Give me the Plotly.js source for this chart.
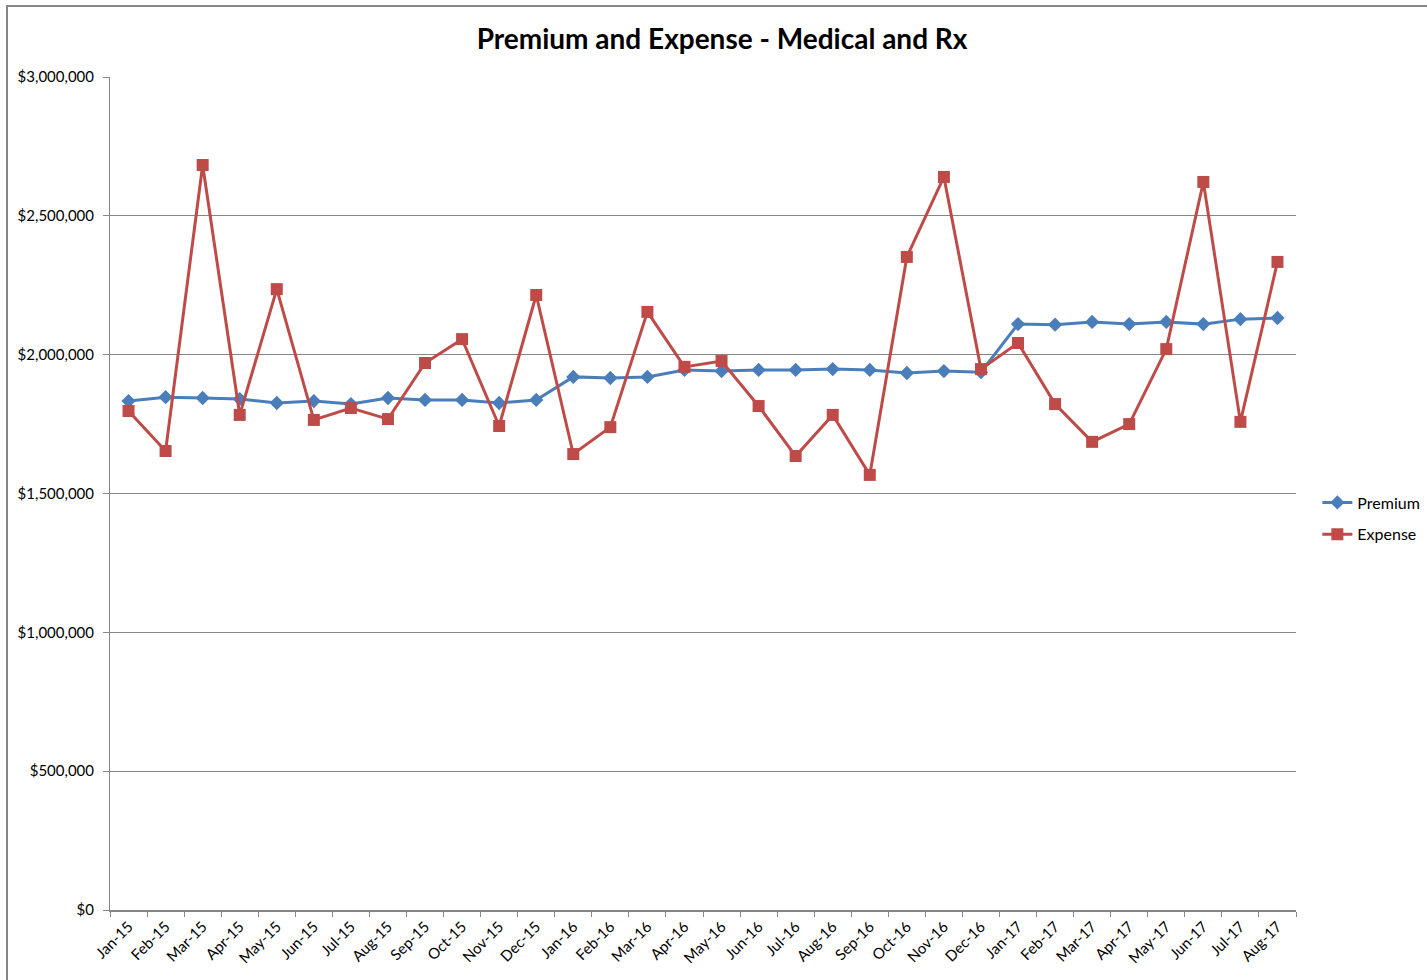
<!DOCTYPE html>
<html>
<head>
<meta charset="utf-8">
<script src="https://cdn.plot.ly/plotly-3.0.1.min.js"></script>
<style>
  html, body { margin: 0; padding: 0; background: #fff; }
  #plotArea { width: 1427px; height: 980px; }
</style>
</head>
<body>
<div id="plotArea"></div>
<script>
// months on the x axis
var months = [
  "Jan-15", "Feb-15", "Mar-15", "Apr-15", "May-15", "Jun-15", "Jul-15", "Aug-15",
  "Sep-15", "Oct-15", "Nov-15", "Dec-15", "Jan-16", "Feb-16", "Mar-16", "Apr-16",
  "May-16", "Jun-16", "Jul-16", "Aug-16", "Sep-16", "Oct-16", "Nov-16", "Dec-16",
  "Jan-17", "Feb-17", "Mar-17", "Apr-17", "May-17", "Jun-17", "Jul-17", "Aug-17"
];

// Premium
var premium = [
  1833000, 1847000, 1844000, 1840000, 1826000, 1833000, 1822000, 1844000,
  1837000, 1837000, 1826000, 1837000, 1920000, 1916000, 1920000, 1945000,
  1941000, 1945000, 1945000, 1948000, 1945000, 1934000, 1941000, 1937000,
  2110000, 2108000, 2118000, 2110000, 2118000, 2110000, 2128000, 2132000
];

// Expense
var expense = [
  1797000, 1653000, 2683000, 1783000, 2236000, 1765000, 1808000, 1768000,
  1970000, 2056000, 1743000, 2215000, 1642000, 1739000, 2154000, 1956000,
  1977000, 1815000, 1635000, 1783000, 1567000, 2352000, 2640000, 1948000,
  2042000, 1822000, 1686000, 1750000, 2020000, 2622000, 1758000, 2334000
];

var yTicks = [0, 500000, 1000000, 1500000, 2000000, 2500000, 3000000];
var yLabels = ["$0", "$500,000", "$1,000,000", "$1,500,000", "$2,000,000", "$2,500,000", "$3,000,000"];

var tracePremium = {
  x: months,
  y: premium,
  name: "Premium",
  legendgroup: "p",
  type: "scatter",
  mode: "lines+markers",
  line: { color: "#4A7EBB", width: 3 },
  marker: { symbol: "diamond", size: 11, color: "#4A7EBB" }
};

var traceExpense = {
  x: months,
  y: expense,
  name: "Expense",
  legendgroup: "e",
  type: "scatter",
  mode: "lines+markers",
  line: { color: "#BE4B48", width: 3 },
  marker: { symbol: "square", size: 12, color: "#BE4B48" }
};

var font = "Lato, 'Open Sans', sans-serif";

var layout = {
  width: 1427,
  height: 980,
  margin: { l: 110, r: 131, t: 77, b: 70, autoexpand: false },
  paper_bgcolor: "#fff",
  plot_bgcolor: "#fff",
  font: { family: font, size: 14, color: "#000" },
  title: {
    text: "<b>Premium and Expense - Medical and Rx</b>",
    font: { family: font, size: 28, color: "#000" },
    x: 0.506, xanchor: "center",
    y: 0.96, yanchor: "middle"
  },
  xaxis: {
    type: "category",
    showline: true,
    linecolor: "#868686",
    linewidth: 2,
    showgrid: false,
    ticks: "outside",
    tickson: "boundaries",
    ticklen: 5,
    tickcolor: "#868686",
    tickangle: -45,
    tickfont: { family: font, size: 15 },
    range: [-0.5, 31.5]
  },
  yaxis: {
    range: [0, 3000000],
    tickvals: yTicks,
    ticktext: yLabels,
    showline: true,
    linecolor: "#868686",
    linewidth: 1,
    showgrid: true,
    gridcolor: "#868686",
    gridwidth: 1,
    zeroline: false,
    ticks: "outside",
    ticklen: 6,
    tickcolor: "#868686",
    ticklabelstandoff: 6,
    tickfont: { family: font, size: 15 }
  },
  legend: {
    x: 1.018, xanchor: "left",
    y: 0.47, yanchor: "middle",
    font: { family: font, size: 16 },
    tracegroupgap: 8,
    itemwidth: 30
  },
  shapes: [
    {
      type: "rect", xref: "paper", yref: "paper",
      x0: (7 - 110) / 1186, x1: (1450 - 110) / 1186,
      y0: (910 - 1000) / 833, y1: (910 - 6) / 833,
      line: { color: "#868686", width: 2 },
      fillcolor: "rgba(0,0,0,0)",
      layer: "below"
    }
  ],
  showlegend: true
};

Plotly.newPlot("plotArea", [tracePremium, traceExpense], layout, { displayModeBar: false });
</script>
</body>
</html>
